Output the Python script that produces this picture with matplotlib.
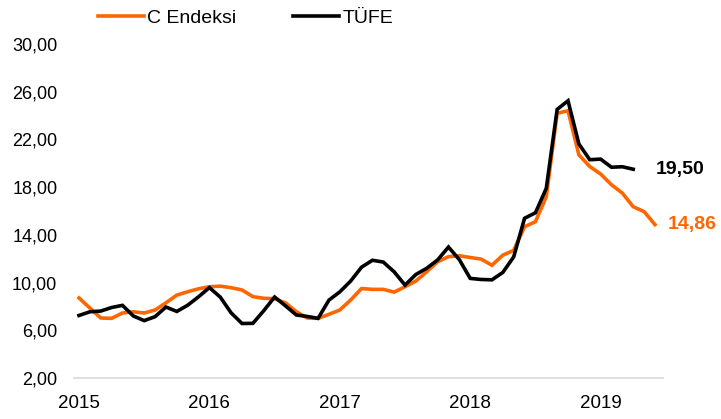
import numpy as np
import matplotlib.pyplot as plt

# aylik seriler, Ocak 2015'ten itibaren (yillik % degisim)
c_endeksi = [8.71, 7.87, 7.03, 7.00, 7.45, 7.55, 7.45, 7.70, 8.30, 8.95, 9.23, 9.48,
             9.65, 9.70, 9.57, 9.38, 8.82, 8.68, 8.65, 8.30, 7.56, 7.03, 7.00, 7.34,
             7.70, 8.54, 9.50, 9.43, 9.43, 9.20, 9.65, 10.13, 10.91, 11.75, 12.17, 12.25,
             12.10, 11.97, 11.45, 12.30, 12.70, 14.68, 15.10, 17.20, 24.20, 24.40, 20.70, 19.73,
             19.10, 18.20, 17.50, 16.36, 15.95, 14.86]
tufe = [7.24, 7.55, 7.61, 7.91, 8.09, 7.20, 6.81, 7.14, 7.95, 7.58, 8.10, 8.81,
        9.58, 8.78, 7.46, 6.57, 6.58, 7.64, 8.79, 8.05, 7.28, 7.16, 7.00, 8.53,
        9.22, 10.13, 11.29, 11.87, 11.72, 10.90, 9.79, 10.68, 11.20, 11.90, 12.98, 11.92,
        10.35, 10.26, 10.23, 10.85, 12.15, 15.39, 15.85, 17.90, 24.52, 25.24, 21.62, 20.30,
        20.35, 19.67, 19.71, 19.50]
yillar = ['2015', '2016', '2017', '2018', '2019']
yticks = [2, 6, 10, 14, 18, 22, 26, 30]

turuncu = '#ff6600'
plt.rcParams['font.family'] = ['Liberation Sans', 'DejaVu Sans']

fig = plt.figure(figsize=(7.21, 4.19), dpi=100)
ax = fig.add_axes([74 / 721, 1 - 378 / 419, (663 - 74) / 721, (378 - 44) / 419])

x_c = np.arange(len(c_endeksi))
x_t = np.arange(len(tufe))
ax.plot(x_c, c_endeksi, color=turuncu, lw=2.6, label='C Endeksi', solid_joinstyle='miter')
ax.plot(x_t, tufe, color='black', lw=2.6, label='TÜFE', solid_joinstyle='miter')

ax.set_ylim(2, 30)
ax.set_xlim(-0.46, 53.74)
ax.set_yticks(yticks)
ax.set_yticklabels([('%.2f' % v).replace('.', ',') for v in yticks])
ax.set_xticks(np.arange(len(yillar)) * 12)
ax.set_xticklabels(yillar)
ax.tick_params(length=0, labelsize=13, colors='black')
ax.tick_params(axis='y', pad=12)
ax.tick_params(axis='x', pad=12, labelsize=13.5)

for s in ['top', 'right', 'left']:
    ax.spines[s].set_visible(False)
ax.spines['bottom'].set_color('#d9d9d9')
ax.spines['bottom'].set_linewidth(1.2)

# son degerler
ax.annotate(('%.2f' % tufe[-1]).replace('.', ','), (x_t[-1], tufe[-1]),
            xytext=(16, 0), textcoords='offset points', va='center', ha='left',
            fontsize=14, fontweight='bold', color='black')
ax.annotate(('%.2f' % c_endeksi[-1]).replace('.', ','), (x_c[-1], c_endeksi[-1]),
            xytext=(9, 0), textcoords='offset points', va='center', ha='left',
            fontsize=14, fontweight='bold', color=turuncu)

fig.legend(loc='upper left', bbox_to_anchor=(80 / 721, 1.02), ncol=2, frameon=False,
           fontsize=14, handlelength=2.4, handletextpad=0.15, columnspacing=2.9)

fig.savefig('out.png', dpi=100)
